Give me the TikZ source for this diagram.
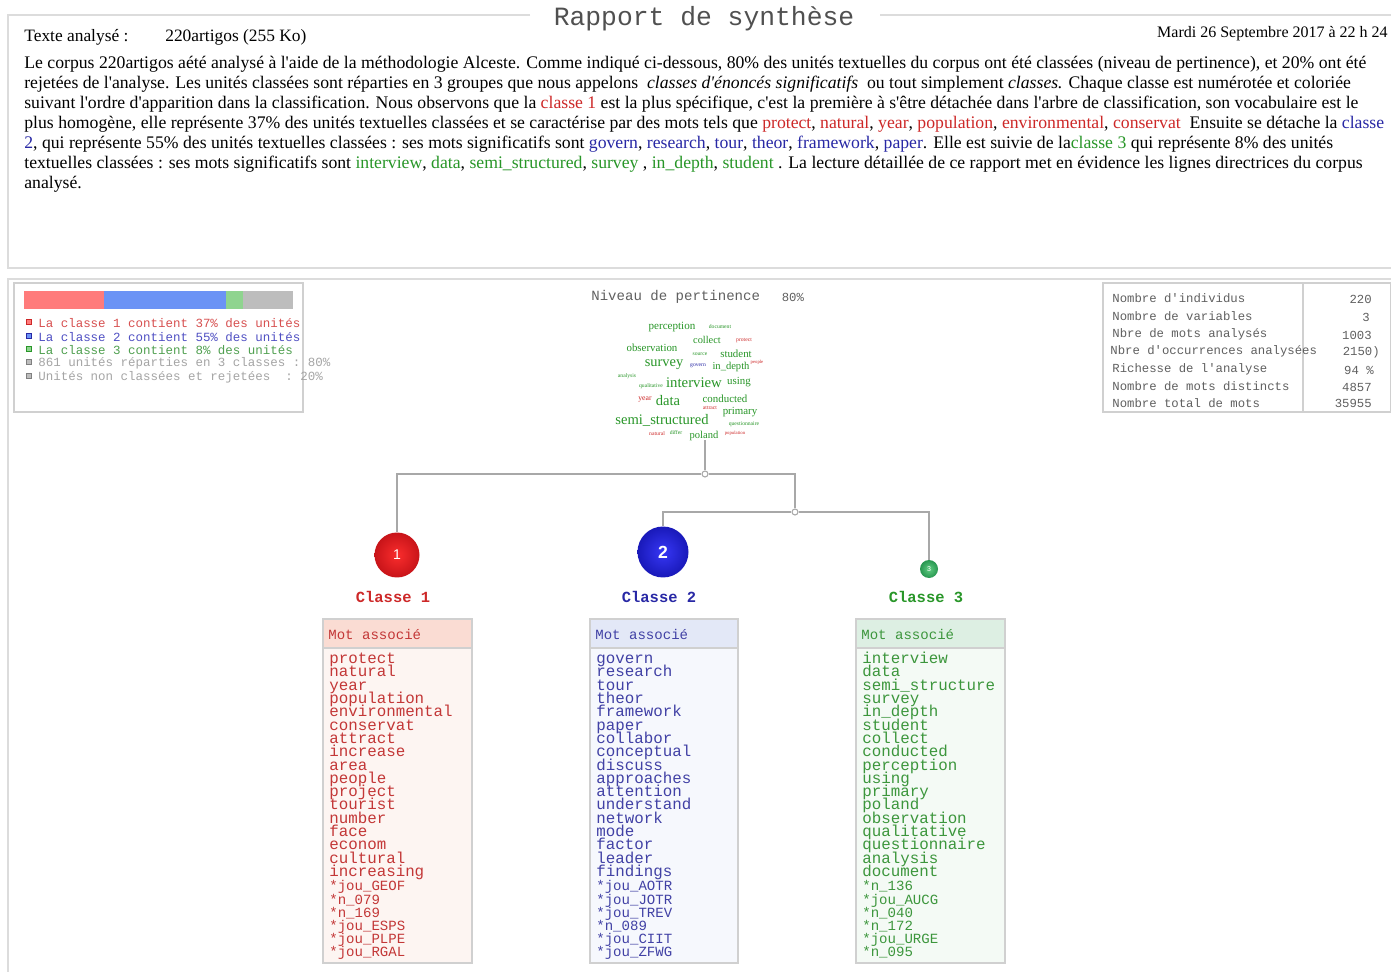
\documentclass[tikz,border=0pt]{standalone}
\usepackage{fontspec}
\setmainfont{Liberation Serif}[Ligatures=TeXOff]
\setmonofont{Liberation Mono}
\setsansfont{Liberation Sans}
\usetikzlibrary{positioning,shapes.geometric}
\definecolor{framegray}{HTML}{DCDCDC}
\definecolor{boxgray}{HTML}{D0D0D0}
\definecolor{treegray}{HTML}{A8A8A8}
\definecolor{titlegray}{HTML}{505050}
\definecolor{statgray}{HTML}{606060}
\definecolor{wred}{RGB}{205,40,40}
\definecolor{wblue}{RGB}{40,40,165}
\definecolor{wgreen}{RGB}{40,150,40}
\definecolor{lred}{RGB}{215,80,80}
\definecolor{lblue}{RGB}{80,80,195}
\definecolor{lgreen}{RGB}{80,160,80}
\definecolor{lgray}{RGB}{165,165,165}
\definecolor{barred}{HTML}{FF7B7B}
\definecolor{barblue}{HTML}{6B93F5}
\definecolor{bargreen}{HTML}{8FD48F}
\definecolor{bargray}{HTML}{BDBDBD}
\definecolor{tred}{RGB}{195,55,55}
\definecolor{tblue}{RGB}{65,65,165}
\definecolor{tgreen}{RGB}{60,150,60}
\definecolor{headred}{HTML}{FADCD3}
\definecolor{bodyred}{HTML}{FDF5F2}
\definecolor{headblue}{HTML}{E3E8F7}
\definecolor{bodyblue}{HTML}{F6F8FD}
\definecolor{headgreen}{HTML}{DDEFE3}
\definecolor{bodygreen}{HTML}{F4FAF5}
\definecolor{ballredin}{RGB}{250,45,45}
\definecolor{ballredout}{RGB}{200,20,25}
\definecolor{ballbluein}{RGB}{55,55,245}
\definecolor{ballblueout}{RGB}{25,25,185}
\definecolor{ballgreenin}{RGB}{95,205,130}
\definecolor{ballgreenout}{RGB}{40,150,80}
\newcommand{\wordfont}{\ttfamily\fontsize{9}{7.57}\selectfont\lineskiplimit=-20pt\relax}
\newcommand{\starfont}{\ttfamily\fontsize{8}{7.5}\selectfont\lineskiplimit=-20pt\relax}

\begin{document}
\begin{tikzpicture}[
    x=0.02cm, y=-0.02cm,
    frameline/.style={draw=framegray, line width=0.9pt},
    boxline/.style={draw=boxgray, line width=0.6pt},
    bodytext/.style={anchor=base west, inner sep=0pt, font=\fontsize{10.07}{11}\selectfont},
    legendsquare/.style={rectangle, minimum size=0.11cm, inner sep=0pt, line width=0.7pt},
    legendtext/.style={anchor=west, inner sep=0pt, font=\ttfamily\fontsize{7.1}{8}\selectfont},
    statlabel/.style={anchor=west, inner sep=0pt, text=statgray, font=\ttfamily\fontsize{7}{8}\selectfont},
    statvalue/.style={anchor=east, inner sep=0pt, text=statgray, font=\ttfamily\fontsize{7}{8}\selectfont},
    cloudword/.style={inner sep=0pt, text=wgreen},
    junction/.style={circle, draw=treegray, fill=white, minimum size=0.12cm, inner sep=0pt, line width=0.6pt},
    treeline/.style={draw=treegray, line width=0.8pt},
    classball/.style={circle, inner sep=0pt, text=white, shading=radial, font=\sffamily\bfseries},
    classlabel/.style={inner sep=0pt, font=\ttfamily\bfseries\fontsize{8.8}{10}\selectfont},
    tablehead/.style={anchor=west, inner sep=0pt, font=\ttfamily\fontsize{8}{9}\selectfont},
    tablewords/.style={anchor=north west, inner sep=0pt, align=left, font=\wordfont},
    tablestars/.style={anchor=north west, inner sep=0pt, align=left, font=\starfont},
    ]
    \useasboundingbox (0,0) rectangle (1391,972);
    \fill[white] (0,0) rectangle (1391,972);

    %Frames
    \draw[frameline] (530,15) -- (8,15) -- (8,268) -- (1391,268);
    \draw[frameline] (880,15) -- (1391,15);
    \draw[frameline] (1391,279) -- (8,279) -- (8,972);
    \draw[boxline] (14,283) rectangle (303,412);
    \draw[boxline] (1103,283) rectangle (1391,412);
    \draw[boxline] (1303,283) -- (1303,412);

    %Header
    \node[inner sep=0pt, text=titlegray, font=\ttfamily\fontsize{15}{17}\selectfont] (title) at (704,19) {Rapport de synthèse};
    \node[bodytext, font=\fontsize{9.9}{11}\selectfont] (texte) at (24,42) {Texte analysé :};
    \node[bodytext, font=\fontsize{9.9}{11}\selectfont] (corpus) at (165,42) {220artigos (255 Ko)};
    \node[inner sep=0pt, anchor=base east, font=\fontsize{9.1}{10}\selectfont] (date) at (1388,38) {Mardi 26 Septembre 2017 à 22 h 24};

    % Summary text
    \node[bodytext] (p1) at (24,69) {Le corpus 220artigos aété analysé à l'aide de la méthodologie Alceste. Comme indiqué ci-dessous, 80\% des unités textuelles du corpus ont été classées (niveau de pertinence), et 20\% ont été};
    \node[bodytext] (p2) at (24,89) {rejetées de l'analyse. Les unités classées sont réparties en 3 groupes que nous appelons \ \textit{classes d'énoncés significatifs} \ ou tout simplement \textit{classes.} Chaque classe est numérotée et coloriée};
    \node[bodytext] (p3) at (24,109) {suivant l'ordre d'apparition dans la classification. Nous observons que la \textcolor{wred}{classe 1} est la plus spécifique, c'est la première à s'être détachée dans l'arbre de classification, son vocabulaire est le};
    \node[bodytext] (p4) at (24,129) {plus homogène, elle représente 37\% des unités textuelles classées et se caractérise par des mots tels que \textcolor{wred}{protect}, \textcolor{wred}{natural}, \textcolor{wred}{year}, \textcolor{wred}{population}, \textcolor{wred}{environmental}, \textcolor{wred}{conservat} \ Ensuite se détache la \textcolor{wblue}{classe}};
    \node[bodytext] (p5) at (24,149) {\textcolor{wblue}{2}, qui représente 55\% des unités textuelles classées : ses mots significatifs sont \textcolor{wblue}{govern}, \textcolor{wblue}{research}, \textcolor{wblue}{tour}, \textcolor{wblue}{theor}, \textcolor{wblue}{framework}, \textcolor{wblue}{paper}. Elle est suivie de la\textcolor{wgreen}{classe 3} qui représente 8\% des unités};
    \node[bodytext] (p6) at (24,169) {textuelles classées : ses mots significatifs sont \textcolor{wgreen}{interview}, \textcolor{wgreen}{data}, \textcolor{wgreen}{semi\_structured}, \textcolor{wgreen}{survey} , \textcolor{wgreen}{in\_depth}, \textcolor{wgreen}{student} . La lecture détaillée de ce rapport met en évidence les lignes directrices du corpus};
    \node[bodytext] (p7) at (24,189) {analysé.};

    % Legend
    \fill[barred]   (24,291)  rectangle (104,309);
    \fill[barblue]  (104,291) rectangle (226,309);
    \fill[bargreen] (226,291) rectangle (243,309);
    \fill[bargray]  (243,291) rectangle (293,309);
    \node[legendsquare, draw=wred, fill=barred]     (sq1) at (29,322) {};
    \node[legendsquare, draw=wblue, fill=barblue]   (sq2) at (29,336) {};
    \node[legendsquare, draw=wgreen, fill=bargreen] (sq3) at (29,349) {};
    \node[legendsquare, draw=gray, fill=bargray]    (sq4) at (29,362) {};
    \node[legendsquare, draw=gray, fill=bargray]    (sq5) at (29,376) {};
    \node[legendtext, text=lred]   (leg1) at (38,323) {La classe 1 contient 37\% des unités};
    \node[legendtext, text=lblue]  (leg2) at (38,337) {La classe 2 contient 55\% des unités};
    \node[legendtext, text=lgreen] (leg3) at (38,350) {La classe 3 contient 8\% des unités};
    \node[legendtext, text=lgray]  (leg4) at (38,363) {861 unités réparties en 3 classes : 80\%};
    \node[legendtext, text=lgray]  (leg5) at (38,377) {Unités non classées et rejetées \ : 20\%};

    % Statistics
    \node[statlabel] (s1) at (1112,298) {Nombre d'individus};
    \node[statlabel] (s2) at (1112,316) {Nombre de variables};
    \node[statlabel] (s3) at (1112,334) {Nbre de mots analysés};
    \node[statlabel] (s4) at (1110,351) {Nbre d'occurrences analysées};
    \node[statlabel] (s5) at (1112,369) {Richesse de l'analyse};
    \node[statlabel] (s6) at (1112,386) {Nombre de mots distincts};
    \node[statlabel] (s7) at (1112,403) {Nombre total de mots};
    \node[statvalue] (v1) at (1372,299) {220};
    \node[statvalue] (v2) at (1370,317) {3};
    \node[statvalue] (v3) at (1372,335) {1003};
    \node[statvalue] (v4) at (1380,352) {2150)};
    \node[statvalue] (v5) at (1374,370) {94 \%};
    \node[statvalue] (v6) at (1372,387) {4857};
    \node[statvalue] (v7) at (1372,403) {35955};

    % Word cloud
    \node[inner sep=0pt, anchor=west, text=statgray, font=\ttfamily\fontsize{8}{9}\selectfont] (niveau) at (591,297) {Niveau de pertinence};
    \node[inner sep=0pt, anchor=west, text=statgray, font=\ttfamily\fontsize{7}{8}\selectfont] (pct) [right=0.42cm of niveau] {80\%};
    \node[cloudword, font=\fontsize{6.3}{7}\selectfont] (wperception) at (672,327) {perception};
    \node[cloudword, font=\fontsize{3.2}{3}\selectfont] (wdocument) at (720,327) {document};
    \node[cloudword, font=\fontsize{5.9}{6}\selectfont] (wcollect) at (707,340) {collect};
    \node[cloudword, text=wred, font=\fontsize{3.2}{3}\selectfont] (wprotect) at (744,341) {protect};
    \node[cloudword, font=\fontsize{6.2}{7}\selectfont] (wobservation) at (652,348) {observation};
    \node[cloudword, font=\fontsize{3.2}{3}\selectfont] (wsource) at (700,354) {source};
    \node[cloudword, font=\fontsize{6.2}{7}\selectfont] (wstudent) at (736,354) {student};
    \node[cloudword, font=\fontsize{8.2}{9}\selectfont] (wsurvey) at (664,365) {survey};
    \node[cloudword, text=wblue, font=\fontsize{3.2}{3}\selectfont] (wgovern) at (698,366) {govern};
    \node[cloudword, font=\fontsize{6}{7}\selectfont] (windepth) at (731,367) {in\_depth};
    \node[cloudword, text=wred, font=\fontsize{2.7}{3}\selectfont] (wpeople) at (757,362) {people};
    \node[cloudword, font=\fontsize{3.2}{3}\selectfont] (wanalysis) at (627,376) {analysis};
    \node[cloudword, font=\fontsize{3.2}{3}\selectfont] (wqualitative) at (651,386) {qualitative};
    \node[cloudword, font=\fontsize{8.4}{9}\selectfont] (winterview) at (694,383) {interview};
    \node[cloudword, font=\fontsize{6.2}{7}\selectfont] (wusing) at (739,382) {using};
    \node[cloudword, text=wred, font=\fontsize{4.4}{5}\selectfont] (wyear) at (645,400) {year};
    \node[cloudword, font=\fontsize{8.3}{9}\selectfont] (wdata) at (668,401) {data};
    \node[cloudword, font=\fontsize{6.2}{7}\selectfont] (wconducted) at (725,399) {conducted};
    \node[cloudword, text=wred, font=\fontsize{3.2}{3}\selectfont] (wattract) at (710,408) {attract};
    \node[cloudword, font=\fontsize{6.2}{7}\selectfont] (wprimary) at (740,412) {primary};
    \node[cloudword, font=\fontsize{8.3}{9}\selectfont] (wsemi) at (662,420) {semi\_structured};
    \node[cloudword, font=\fontsize{3.2}{3}\selectfont] (wquestion) at (744,424) {questionnaire};
    \node[cloudword, text=wred, font=\fontsize{3.2}{3}\selectfont] (wnatural) at (657,434) {natural};
    \node[cloudword, font=\fontsize{3.2}{3}\selectfont] (wdiffer) at (676,433) {differ};
    \node[cloudword, font=\fontsize{6}{7}\selectfont] (wpoland) at (704,436) {poland};
    \node[cloudword, text=wred, font=\fontsize{2.7}{3}\selectfont] (wpopulation) at (735,433) {population};

    % Dendrogram
    \coordinate (stem) at (705,440);
    \node[junction] (j0) at (705,474) {};
    \node[junction] (j1) at (795,512) {};
    \node[classball, inner color=ballredin, outer color=ballredout, minimum size=0.9cm, font=\sffamily\fontsize{8}{9}\selectfont] (c1) at (397,555) {1};
    \node[classball, inner color=ballbluein, outer color=ballblueout, minimum size=1.02cm, font=\sffamily\bfseries\fontsize{10}{11}\selectfont] (c2) at (663,552) {2};
    \node[classball, inner color=ballgreenin, outer color=ballgreenout, minimum size=0.36cm, font=\sffamily\fontsize{4}{4}\selectfont] (c3) at (929,569) {3};
    \node[classlabel, text=wred]   (l1) at (393,597) {Classe 1};
    \node[classlabel, text=wblue]  (l2) at (659,597) {Classe 2};
    \node[classlabel, text=wgreen] (l3) at (926,597) {Classe 3};

    % Tables
    \fill[bodyred]   (323,619) rectangle (472,963);
    \fill[headred]   (323,619) rectangle (472,648);
    \draw[boxline]   (323,619) rectangle (472,963);
    \draw[boxline]   (323,648) -- (472,648);
    \fill[bodyblue]  (590,619) rectangle (738,963);
    \fill[headblue]  (590,619) rectangle (738,648);
    \draw[boxline]   (590,619) rectangle (738,963);
    \draw[boxline]   (590,648) -- (738,648);
    \fill[bodygreen] (856,619) rectangle (1005,963);
    \fill[headgreen] (856,619) rectangle (1005,648);
    \draw[boxline]   (856,619) rectangle (1005,963);
    \draw[boxline]   (856,648) -- (1005,648);

    \node[tablehead, text=tred]   (h1) at (328,634) {Mot associé};
    \node[tablehead, text=tblue]  (h2) at (595,634) {Mot associé};
    \node[tablehead, text=tgreen] (h3) at (861,634) {Mot associé};

    \node[tablewords, text=tred] (t1) at (329,651) {\rule{0pt}{7pt}protect\\natural\\year\\population\\environmental\\conservat\\attract\\increase\\area\\people\\project\\tourist\\number\\face\\econom\\cultural\\increasing};
    \node[tablestars, text=tred] (st1) at (329,880) {\rule{0pt}{6pt}*jou\_GEOF\\*n\_079\\*n\_169\\*jou\_ESPS\\*jou\_PLPE\\*jou\_RGAL};
    \node[tablewords, text=tblue] (t2) at (596,651) {\rule{0pt}{7pt}govern\\research\\tour\\theor\\framework\\paper\\collabor\\conceptual\\discuss\\approaches\\attention\\understand\\network\\mode\\factor\\leader\\findings};
    \node[tablestars, text=tblue] (st2) at (596,880) {\rule{0pt}{6pt}*jou\_AOTR\\*jou\_JOTR\\*jou\_TREV\\*n\_089\\*jou\_CIIT\\*jou\_ZFWG};
    \node[tablewords, text=tgreen] (t3) at (862,651) {\rule{0pt}{7pt}interview\\data\\semi\_structure\\survey\\in\_depth\\student\\collect\\conducted\\perception\\using\\primary\\poland\\observation\\qualitative\\questionnaire\\analysis\\document};
    \node[tablestars, text=tgreen] (st3) at (862,880) {\rule{0pt}{6pt}*n\_136\\*jou\_AUCG\\*n\_040\\*n\_172\\*jou\_URGE\\*n\_095};

    %Lines
    \draw[treeline] (stem) -- (j0.north);
    \draw[treeline] (j0.west) -| (c1.north);
    \draw[treeline] (j0.east) -| (j1.north);
    \draw[treeline] (j1.west) -| (c2.north);
    \draw[treeline] (j1.east) -| (c3.north);
\end{tikzpicture}
\end{document}
